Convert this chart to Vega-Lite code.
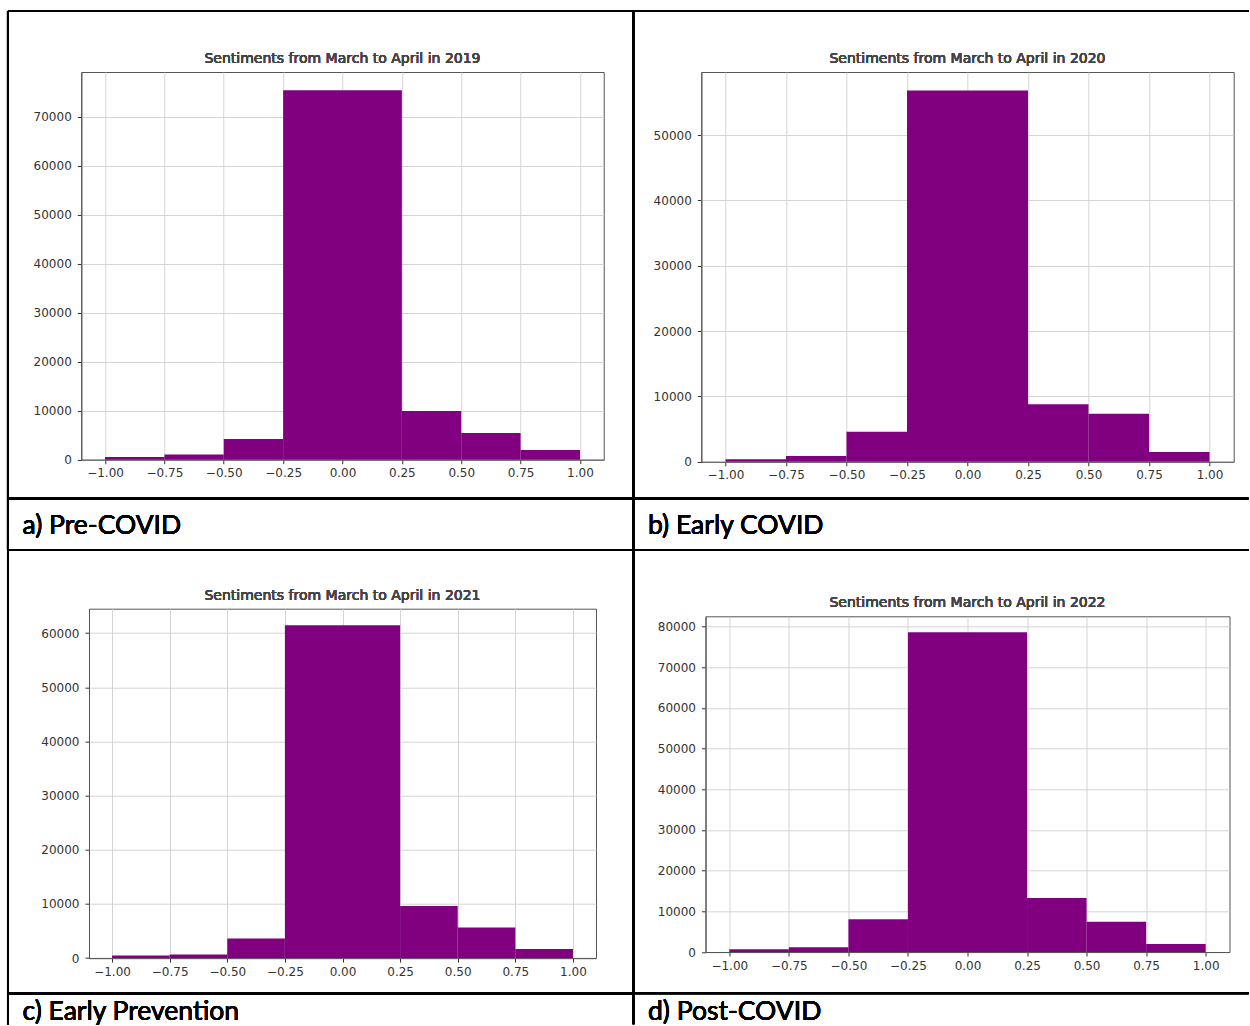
{
  "$schema": "https://vega.github.io/schema/vega-lite/v6.json",
  "padding": {"left": 6, "top": 9, "right": 0, "bottom": 0},
  "background": "white",
  "config": {
    "view": {"stroke": "#555555", "strokeWidth": 1},
    "axis": {
      "domain": true,
      "domainColor": "#555555",
      "domainWidth": 1,
      "grid": true,
      "gridColor": "#cfcfcf",
      "gridOpacity": 0.9,
      "gridWidth": 1,
      "tickColor": "#333333",
      "tickSize": 4,
      "tickWidth": 1,
      "labelColor": "#333333",
      "labelFont": "DejaVu Sans",
      "labelFontSize": 12,
      "title": null,
      "zindex": 1
    },
    "rule": {"color": "#000000", "strokeWidth": 2},
    "rect": {"color": "#800080"},
    "text": {"font": "DejaVu Sans"}
  },
  "datasets": {
    "y2019": [
      {"lo": -1.0, "hi": -0.75, "count": 550},
      {"lo": -0.75, "hi": -0.5, "count": 1050},
      {"lo": -0.5, "hi": -0.25, "count": 4200},
      {"lo": -0.25, "hi": 0.25, "count": 75400},
      {"lo": 0.25, "hi": 0.5, "count": 9950},
      {"lo": 0.5, "hi": 0.75, "count": 5450},
      {"lo": 0.75, "hi": 1.0, "count": 2000}
    ],
    "y2020": [
      {"lo": -1.0, "hi": -0.75, "count": 380},
      {"lo": -0.75, "hi": -0.5, "count": 900},
      {"lo": -0.5, "hi": -0.25, "count": 4600},
      {"lo": -0.25, "hi": 0.25, "count": 56800},
      {"lo": 0.25, "hi": 0.5, "count": 8800},
      {"lo": 0.5, "hi": 0.75, "count": 7350},
      {"lo": 0.75, "hi": 1.0, "count": 1500}
    ],
    "y2021": [
      {"lo": -1.0, "hi": -0.75, "count": 490},
      {"lo": -0.75, "hi": -0.5, "count": 680},
      {"lo": -0.5, "hi": -0.25, "count": 3630},
      {"lo": -0.25, "hi": 0.25, "count": 61450},
      {"lo": 0.25, "hi": 0.5, "count": 9600},
      {"lo": 0.5, "hi": 0.75, "count": 5660},
      {"lo": 0.75, "hi": 1.0, "count": 1660}
    ],
    "y2022": [
      {"lo": -1.0, "hi": -0.75, "count": 660},
      {"lo": -0.75, "hi": -0.5, "count": 1150},
      {"lo": -0.5, "hi": -0.25, "count": 8030},
      {"lo": -0.25, "hi": 0.25, "count": 78600},
      {"lo": 0.25, "hi": 0.5, "count": 13280},
      {"lo": 0.5, "hi": 0.75, "count": 7460},
      {"lo": 0.75, "hi": 1.0, "count": 1970}
    ]
  },
  "spacing": -4,
  "bounds": "full",
  "hconcat": [
    {
      "spacing": 148.7,
      "center": true,
      "bounds": "flush",
      "vconcat": [
        {
          "width": 522.45,
          "height": 387.7,
          "data": {"name": "y2019"},
          "layer": [
            {
              "mark": {"type": "rect"},
              "encoding": {
                "x": {"field": "lo", "type": "quantitative",
                      "scale": {"domain": [-1.1, 1.1], "nice": false, "zero": false},
                      "axis": {"values": [-1, -0.75, -0.5, -0.25, 0, 0.25, 0.5, 0.75, 1], "format": ".2f", "labelPadding": 4}},
                "x2": {"field": "hi"},
                "y": {"field": "count", "type": "quantitative",
                      "scale": {"domain": [0, 79100], "nice": false},
                      "axis": {"values": [0, 10000, 20000, 30000, 40000, 50000, 60000, 70000], "format": "d", "labelPadding": 6}},
                "y2": {"datum": 0}
              }
            },
            {
              "mark": {"type": "text", "fontSize": 14, "color": "#444444", "baseline": "alphabetic", "dy": -9},
              "encoding": {"x": {"datum": 0}, "y": {"datum": 79100}, "text": {"value": "Sentiments from March to April in 2019"}}
            },
            {
              "mark": {"type": "text", "font": "Lato", "fontSize": 26.5, "color": "#000000", "align": "left", "baseline": "alphabetic"},
              "encoding": {"x": {"datum": -1.3476}, "y": {"datum": -15077}, "text": {"value": "a) Pre-COVID"}}
            },
            {"mark": "rule", "encoding": {"x": {"datum": -1.4087}, "x2": {"datum": 1.2231}, "y": {"datum": 91524}}},
            {"mark": "rule", "encoding": {"x": {"datum": -1.4087}, "y": {"datum": 91524}, "y2": {"datum": -18444}}},
            {"mark": "rule", "encoding": {"x": {"datum": -1.4087}, "x2": {"datum": 1.2231}, "y": {"datum": -7936}}},
            {"mark": "rule", "encoding": {"x": {"datum": -1.4087}, "x2": {"datum": 1.2231}, "y": {"datum": -18444}}}
          ]
        },
        {
          "width": 507,
          "height": 349.4,
          "data": {"name": "y2021"},
          "layer": [
            {
              "mark": {"type": "rect"},
              "encoding": {
                "x": {"field": "lo", "type": "quantitative",
                      "scale": {"domain": [-1.1, 1.1], "nice": false, "zero": false},
                      "axis": {"values": [-1, -0.75, -0.5, -0.25, 0, 0.25, 0.5, 0.75, 1], "format": ".2f", "labelPadding": 4}},
                "x2": {"field": "hi"},
                "y": {"field": "count", "type": "quantitative",
                      "scale": {"domain": [0, 64520], "nice": false},
                      "axis": {"values": [0, 10000, 20000, 30000, 40000, 50000, 60000], "format": "d", "labelPadding": 6}},
                "y2": {"datum": 0}
              }
            },
            {
              "mark": {"type": "text", "fontSize": 14, "color": "#444444", "baseline": "alphabetic", "dy": -9},
              "encoding": {"x": {"datum": 0}, "y": {"datum": 64520}, "text": {"value": "Sentiments from March to April in 2021"}}
            },
            {
              "mark": {"type": "text", "font": "Lato", "fontSize": 26.5, "color": "#000000", "align": "left", "baseline": "alphabetic"},
              "encoding": {"x": {"datum": -1.3886}, "y": {"datum": -11504}, "text": {"value": "c) Early Prevention"}}
            },
            {"mark": "rule", "encoding": {"x": {"datum": -1.4515}, "y": {"datum": 75286}, "y2": {"datum": -12244}}},
            {"mark": "rule", "encoding": {"x": {"datum": -1.4515}, "x2": {"datum": 1.2606}, "y": {"datum": -6519}}}
          ]
        }
      ]
    },
    {
      "spacing": 154.3,
      "center": true,
      "bounds": "flush",
      "vconcat": [
        {
          "width": 532.4,
          "height": 389.8,
          "data": {"name": "y2020"},
          "layer": [
            {
              "mark": {"type": "rect"},
              "encoding": {
                "x": {"field": "lo", "type": "quantitative",
                      "scale": {"domain": [-1.1, 1.1], "nice": false, "zero": false},
                      "axis": {"values": [-1, -0.75, -0.5, -0.25, 0, 0.25, 0.5, 0.75, 1], "format": ".2f", "labelPadding": 4}},
                "x2": {"field": "hi"},
                "y": {"field": "count", "type": "quantitative",
                      "scale": {"domain": [0, 59640], "nice": false},
                      "axis": {"values": [0, 10000, 20000, 30000, 40000, 50000], "format": "d", "labelPadding": 6}},
                "y2": {"datum": 0}
              }
            },
            {
              "mark": {"type": "text", "fontSize": 14, "color": "#444444", "baseline": "alphabetic", "dy": -9},
              "encoding": {"x": {"datum": 0}, "y": {"datum": 59640}, "text": {"value": "Sentiments from March to April in 2020"}}
            },
            {
              "mark": {"type": "text", "font": "Lato", "fontSize": 26.5, "color": "#000000", "align": "left", "baseline": "alphabetic"},
              "encoding": {"x": {"datum": -1.3202}, "y": {"datum": -10985}, "text": {"value": "b) Early COVID"}}
            },
            {"mark": "rule", "encoding": {"x": {"datum": -1.3802}, "x2": {"datum": 1.1612}, "y": {"datum": 68957}}},
            {"mark": "rule", "encoding": {"x": {"datum": -1.3802}, "y": {"datum": 68957}, "y2": {"datum": -13510}}},
            {"mark": "rule", "encoding": {"x": {"datum": -1.3802}, "x2": {"datum": 1.1612}, "y": {"datum": -5630}}},
            {"mark": "rule", "encoding": {"x": {"datum": -1.3802}, "x2": {"datum": 1.1612}, "y": {"datum": -13510}}}
          ]
        },
        {
          "width": 524,
          "height": 335.7,
          "data": {"name": "y2022"},
          "layer": [
            {
              "mark": {"type": "rect"},
              "encoding": {
                "x": {"field": "lo", "type": "quantitative",
                      "scale": {"domain": [-1.1, 1.1], "nice": false, "zero": false},
                      "axis": {"values": [-1, -0.75, -0.5, -0.25, 0, 0.25, 0.5, 0.75, 1], "format": ".2f", "labelPadding": 4}},
                "x2": {"field": "hi"},
                "y": {"field": "count", "type": "quantitative",
                      "scale": {"domain": [0, 82530], "nice": false},
                      "axis": {"values": [0, 10000, 20000, 30000, 40000, 50000, 60000, 70000, 80000], "format": "d", "labelPadding": 6}},
                "y2": {"datum": 0}
              }
            },
            {
              "mark": {"type": "text", "fontSize": 14, "color": "#444444", "baseline": "alphabetic", "dy": -9},
              "encoding": {"x": {"datum": 0}, "y": {"datum": 82530}, "text": {"value": "Sentiments from March to April in 2022"}}
            },
            {
              "mark": {"type": "text", "font": "Lato", "fontSize": 26.5, "color": "#000000", "align": "left", "baseline": "alphabetic"},
              "encoding": {"x": {"datum": -1.3414}, "y": {"datum": -16792}, "text": {"value": "d) Post-COVID"}}
            },
            {"mark": "rule", "encoding": {"x": {"datum": -1.4023}, "y": {"datum": 98758}, "y2": {"datum": -17775}}},
            {"mark": "rule", "encoding": {"x": {"datum": -1.4023}, "x2": {"datum": 1.1798}, "y": {"datum": -10154}}}
          ]
        }
      ]
    }
  ]
}
